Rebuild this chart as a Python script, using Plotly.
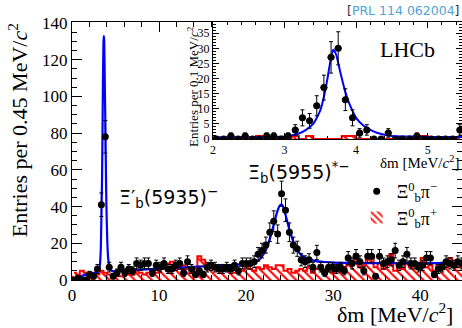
import numpy as np
import plotly.graph_objects as go

# ---------------- main histogram (0.45 MeV bins) ----------------
main_centers = [round(0.225 + 0.45 * i, 3) for i in range(100)]
main_counts = [0, 1, 0, 0, 3, 2, 6, 41, 78, 7,
               2, 4, 7, 4, 6, 5, 9, 8, 9, 9,
               4, 8, 7, 9, 6, 6, 8, 9, 4, 10,
               6, 3, 5, 3, 7, 8, 7, 6, 6, 7,
               6, 8, 5, 9, 9, 9, 10, 14, 16, 19,
               26, 32, 25, 47, 38, 26, 19, 17, 11, 10,
               11, 7, 15, 7, 4, 7, 7, 6, 7, 5,
               12, 9, 13, 10, 5, 13, 13, 2, 13, 9,
               10, 11, 16, 8, 10, 14, 9, 9, 7, 8,
               12, 12, 3, 6, 7, 10, 9, 8, 10, 9]
main_ws = [4, 3, 5, 4, 2, 4, 3, 5, 4, 3,
           3, 4, 2, 4, 3, 3, 5, 4, 3, 4,
           5, 4, 6, 7, 9, 10, 7, 6, 8, 6,
           4, 6, 13, 11, 9, 8, 6, 7, 5, 6,
           5, 4, 6, 5, 7, 6, 5, 7, 6, 8,
           7, 6, 8, 8, 5, 6, 4, 5, 6, 5,
           7, 4, 6, 8, 5, 6, 4, 7, 9, 6,
           8, 9, 14, 7, 8, 12, 13, 7, 9, 6,
           8, 14, 5, 8, 6, 9, 7, 8, 6, 12,
           7, 8, 5, 9, 6, 7, 12, 8, 7, 8]
fit_x = [0, 0.5, 1, 1.5, 2, 2.5, 3.0, 3.2, 3.3, 3.38, 3.45, 3.5, 3.56, 3.62, 3.66,
         3.7, 3.76, 3.85, 3.9, 3.95, 4.05, 4.15, 4.3, 4.5, 4.8, 5, 6, 8, 10, 12, 14,
         16, 18, 20, 21, 21.5, 22, 22.5, 23, 23.5, 23.8, 24.0, 24.2, 24.5, 25, 25.5,
         26, 26.5, 27, 28, 29, 30, 32, 35, 40, 45]
fit_y = [0, 1, 2, 2.8, 3.4, 3.8, 4.5, 8, 16, 35, 55, 78, 110, 130, 133,
         130, 110, 78, 58, 41, 22, 12, 7, 5.2, 4.7, 4.8, 5.2, 5.7, 6.2, 6.7, 7.2,
         7.6, 8.1, 8.8, 9.8, 11, 14, 19, 27, 36, 40, 41, 40.5, 36, 27, 20,
         15.5, 13, 11.5, 10.3, 9.8, 9.5, 9.3, 9.2, 9.2, 9.2]

# ---------------- inset histogram (0.1 MeV bins) ----------------
inset_centers = [round(2.05 + 0.1 * k, 2) for k in range(35)]
inset_counts = [0, 0, 1, 0, 1, 0, 0, 1, 1, 0,
                1, 3, 7, 6, 11, 17, 27, 30, 13, 7,
                2, 3, 0, 0, 2, 0, 0, 0, 1, 0,
                0, 0, 0, 0, 3]
inset_ws = [0, 0, 0, 0, 0, 0, 1, 0, 0, 0,
            0, 1, 0, 1, 0, 0, 0, 0, 1, 1,
            0, 0, 0, 0, 0, 0, 0, 0, 0, 1,
            0, 0, 0, 0, 0]
inset_fit_x = [2.0, 2.5, 2.9, 3.1, 3.2, 3.3, 3.4, 3.45, 3.5, 3.55, 3.6, 3.65, 3.68,
               3.72, 3.78, 3.85, 3.9, 4.0, 4.1, 4.2, 4.3, 4.5, 4.8, 5.0, 5.5]
inset_fit_y = [0.6, 0.6, 0.7, 1.2, 1.8, 3, 5, 7, 9.5, 14, 20, 27, 29.5,
               28, 22, 15.5, 12, 7, 4.5, 3, 2, 1, 0.8, 0.7, 0.7]

SERIF = "Liberation Serif"
SANS = "DejaVu Sans"
RED = "#ff0000"
BLUE = "#0000ff"

fig = go.Figure()

hatch = dict(shape="\\", fgcolor=RED, bgcolor="white", size=6, solidity=0.35,
             fillmode="replace")

# main: wrong-sign hatched histogram
fig.add_trace(go.Bar(x=main_centers, y=main_ws, width=0.45,
                     marker=dict(color="white", pattern=hatch, line=dict(width=0)),
                     name="Ξ<sup>0</sup><sub>b</sub>π<sup>+</sup>", showlegend=True,
                     legendrank=2, xaxis="x", yaxis="y"))
fig.add_trace(go.Scatter(x=main_centers, y=main_ws, mode="lines",
                         line=dict(color=RED, width=2, shape="hvh"),
                         showlegend=False, xaxis="x", yaxis="y"))
fig.add_trace(go.Scatter(x=fit_x, y=fit_y, mode="lines", line=dict(color=BLUE, width=2.2,
                         shape="spline", smoothing=0.6),
                         showlegend=False, xaxis="x", yaxis="y"))
fig.add_trace(go.Scatter(x=main_centers, y=main_counts, mode="markers",
                         marker=dict(color="black", size=7),
                         error_y=dict(type="data", array=list(np.sqrt(main_counts)),
                                      color="black", thickness=1, width=2),
                         error_x=dict(type="constant", value=0.225, color="black",
                                      thickness=1, width=0),
                         name="Ξ<sup>0</sup><sub>b</sub>π<sup>−</sup>", legendrank=1,
                         xaxis="x", yaxis="y"))

# inset
fig.add_trace(go.Bar(x=inset_centers, y=inset_ws, width=0.1,
                     marker=dict(color="white", pattern=hatch, line=dict(width=0)),
                     showlegend=False, xaxis="x2", yaxis="y2"))
fig.add_trace(go.Scatter(x=inset_centers, y=inset_ws, mode="lines",
                         line=dict(color=RED, width=2, shape="hvh"),
                         showlegend=False, xaxis="x2", yaxis="y2"))
fig.add_trace(go.Scatter(x=inset_fit_x, y=inset_fit_y, mode="lines",
                         line=dict(color=BLUE, width=2, shape="spline", smoothing=0.6),
                         showlegend=False, xaxis="x2", yaxis="y2"))
fig.add_trace(go.Scatter(x=inset_centers, y=inset_counts, mode="markers",
                         marker=dict(color="black", size=7),
                         error_y=dict(type="data", array=list(np.sqrt(inset_counts)),
                                      color="black", thickness=1, width=2),
                         error_x=dict(type="constant", value=0.05, color="black",
                                      thickness=1, width=0),
                         showlegend=False, xaxis="x2", yaxis="y2"))

axis_common = dict(showline=True, linecolor="black", linewidth=1, mirror="allticks",
                   ticks="inside", tickcolor="black", showgrid=False, zeroline=False)

fig.update_layout(
    width=462, height=328,
    margin=dict(l=72, r=0, t=22, b=48),
    paper_bgcolor="white", plot_bgcolor="white",
    bargap=0, barmode="overlay",
    font=dict(family=SERIF, color="black"),
    xaxis=dict(range=[0, 44.8], domain=[0, 1], tickvals=[0, 10, 20, 30, 40], ticklen=10,
               minor=dict(dtick=2, ticklen=5, ticks="inside", tickcolor="black"),
               tickfont=dict(family=SERIF, size=17), **axis_common),
    yaxis=dict(range=[0, 140.5], domain=[0, 1], dtick=20, ticklen=10,
               minor=dict(dtick=5, ticklen=5, ticks="inside", tickcolor="black"),
               tickfont=dict(family=SERIF, size=17), **axis_common),
    xaxis2=dict(range=[2, 5.48], domain=[0.3615, 1.0], anchor="y2", dtick=1, ticklen=6,
                minor=dict(dtick=0.2, ticklen=3, ticks="inside", tickcolor="black"),
                tickfont=dict(family=SERIF, size=12), **axis_common),
    yaxis2=dict(range=[0, 38.7], domain=[0.5465, 1.0], anchor="x2", dtick=5, ticklen=6,
                minor=dict(dtick=1, ticklen=3, ticks="inside", tickcolor="black"),
                tickfont=dict(family=SERIF, size=12), **axis_common),
    legend=dict(x=0.73, y=0.415, xanchor="left", yanchor="top",
                bgcolor="rgba(0,0,0,0)", font=dict(family=SERIF, size=18),
                tracegroupgap=0, itemwidth=30),
    showlegend=True,
)

ann = [
    dict(text="[<span style='color:#4fa3d8'>PRL 114 062004</span>]", x=1.0, y=1.0465,
         xanchor="right", yanchor="middle", font=dict(family=SANS, size=12.5, color="#333333")),
    dict(text="LHCb", x=0.784, y=0.895, xanchor="left", yanchor="middle",
         font=dict(family=SERIF, size=22)),
    dict(text="Ξ′<sub>b</sub>(5935)<sup>−</sup>", x=0.115, y=0.3217, xanchor="left",
         yanchor="middle", font=dict(family=SANS, size=19)),
    dict(text="Ξ<sub>b</sub>(5955)<sup>*−</sup>", x=0.447, y=0.4186, xanchor="left",
         yanchor="middle", font=dict(family=SANS, size=19)),
    dict(text="δm [MeV/<i>c</i><sup>2</sup>]", x=0.982, y=-0.126, xanchor="right",
         yanchor="middle", font=dict(family=SERIF, size=22)),
    dict(text="Entries per 0.45 MeV/<i>c</i><sup>2</sup>", x=-0.138, y=0.581, textangle=-90,
         xanchor="center", yanchor="middle", font=dict(family=SERIF, size=22)),
    dict(text="Entries per 0.1 MeV/<i>c</i><sup>2</sup>", x=0.31, y=0.752, textangle=-90,
         xanchor="center", yanchor="middle", font=dict(family=SERIF, size=13)),
    dict(text="δm [MeV/<i>c</i><sup>2</sup>]", x=0.997, y=0.457, xanchor="right",
         yanchor="middle", font=dict(family=SERIF, size=15)),
]
for a in ann:
    a.update(xref="paper", yref="paper", showarrow=False)
fig.update_layout(annotations=ann)

fig.write_html("out.html", config={"displayModeBar": False},
               post_script="document.body.style.margin='0';document.body.style.overflow='hidden';")
